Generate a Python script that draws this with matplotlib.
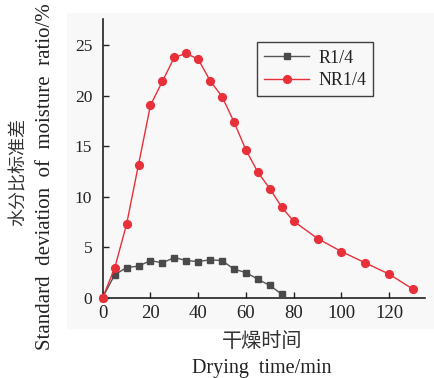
import matplotlib
matplotlib.use("Agg")
import matplotlib.pyplot as plt
from matplotlib.patches import Rectangle

# Drying time (min) and moisture-ratio standard deviation (%)
time_r = [0, 5, 10, 15, 20, 25, 30, 35, 40, 45, 50, 55, 60, 65, 70, 75]
std_r = [0, 2.24, 2.97, 3.10, 3.66, 3.43, 3.96, 3.66, 3.56, 3.73, 3.66,
         2.80, 2.47, 1.81, 1.19, 0.33]

time_nr = [0, 5, 10, 15, 20, 25, 30, 35, 40, 45, 50, 55, 60, 65, 70, 75,
           80, 90, 100, 110, 120, 130]
std_nr = [0, 2.90, 7.26, 13.16, 19.03, 21.40, 23.78, 24.17, 23.60, 21.47,
          19.89, 17.38, 14.61, 12.40, 10.78, 8.94, 7.55, 5.84, 4.55, 3.43,
          2.31, 0.82]

x_ticks = [0, 20, 40, 60, 80, 100, 120]
y_ticks = [0, 5, 10, 15, 20, 25]
series_names = ["R1/4", "NR1/4"]

serif = ["Liberation Serif", "DejaVu Serif"]
cjk = ["Noto Sans CJK SC", "DejaVu Sans"]
text_color = "#222222"

W, H = 434, 378
fig = plt.figure(figsize=(W / 100, H / 100), dpi=100)
fig.patch.set_facecolor("white")

# light panel behind the plot
fig.patches.append(Rectangle((67 / W, 1 - 329 / H), (W - 67) / W, 316 / H,
                             transform=fig.transFigure, facecolor="#f8f8f8",
                             edgecolor="none", zorder=-5))

ax = fig.add_axes([102.7 / W, 1 - 297.5 / H, (425 - 102.7) / W, (297.5 - 19.3) / H])
ax.set_zorder(2)
ax.set_facecolor("none")

ax.plot(time_r, std_r, color="#555555", lw=1.0, marker="s", ms=4.8,
        mfc="#4a4a4a", mec="#4a4a4a", label=series_names[0], clip_on=False, zorder=3)
ax.plot(time_nr, std_nr, color="#e8303a", lw=1.0, marker="o", ms=5.6,
        mfc="#e8303a", mec="#e8303a", label=series_names[1], clip_on=False, zorder=4)

ax.set_xlim(0, 135)
ax.set_ylim(0, 27.55)
ax.set_xticks(x_ticks)
ax.set_yticks(y_ticks)
for s in ["top", "right"]:
    ax.spines[s].set_visible(False)
for s in ["left", "bottom"]:
    ax.spines[s].set_color("#222222")
    ax.spines[s].set_linewidth(1.2)
ax.tick_params(direction="in", length=4, width=1.0, color="#222222",
               labelcolor=text_color)
for lab in ax.get_xticklabels():
    lab.set_fontfamily(serif)
    lab.set_fontsize(13.5)
for lab in ax.get_yticklabels():
    lab.set_fontfamily(serif)
    lab.set_fontsize(12.5)
ax.tick_params(axis="x", pad=5.5)
ax.tick_params(axis="y", pad=7.5)

leg = ax.legend(loc="upper left", bbox_to_anchor=(0.478, 0.917),
                prop={"family": serif, "size": 13}, frameon=True,
                fancybox=False, edgecolor="#111111", handlelength=2.5,
                borderpad=0.4, labelspacing=0.3, handletextpad=0.5,
                borderaxespad=0)
leg.get_frame().set_linewidth(1.0)
leg.get_frame().set_facecolor("#f8f8f8")
for t in leg.get_texts():
    t.set_color(text_color)

# axis titles (Chinese and English lines)
fig.text(261.7 / W, 1 - 341.7 / H, "干燥时间", family=cjk, fontsize=14.5,
         color="#333333", ha="center", va="center")
fig.text(261.7 / W, 1 - 369 / H, "Drying  time/min", family=serif, fontsize=14.5,
         color=text_color, ha="center", va="center")
fig.text(19 / W, 1 - 172 / H, "水分比标准差", family=cjk, fontsize=13,
         color="#333333", ha="center", va="center", rotation=90)
fig.text(46 / W, 1 - 177 / H, "Standard  deviation  of  moisture  ratio/%",
         family=serif, fontsize=15, color=text_color, ha="center", va="center",
         rotation=90)

fig.savefig("out.png", dpi=100)
